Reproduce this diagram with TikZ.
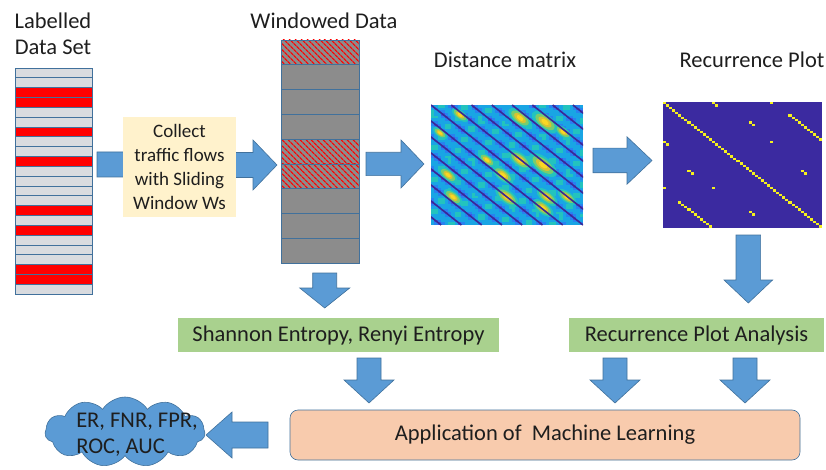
\documentclass[tikz,border=0pt]{standalone}
\usepackage{fontspec}
\setmainfont{Carlito}
\usepackage{tikz}
\usetikzlibrary{positioning,shapes.symbols,patterns.meta}
\definecolor{arrowBlue}{HTML}{5B9BD5}
\definecolor{edgeBlue}{HTML}{41719C}
\definecolor{textGray}{HTML}{1E1E1E}
\definecolor{rowGray}{HTML}{D9DBDF}
\definecolor{windowGray}{HTML}{8C8C8C}
\definecolor{labelRed}{HTML}{FF0000}
\definecolor{collectYellow}{HTML}{FFF2CC}
\definecolor{featureGreen}{HTML}{A9D18E}
\definecolor{learnOrange}{HTML}{F8CBAD}
\definecolor{plotBlue}{HTML}{3B2AA0}
\definecolor{plotYellow}{HTML}{F5F01E}
\definecolor{par0}{RGB}{58,40,150}
\definecolor{par1}{RGB}{66,84,228}
\definecolor{par2}{RGB}{40,130,240}
\definecolor{par3}{RGB}{25,165,228}
\definecolor{par4}{RGB}{35,195,190}
\definecolor{par5}{RGB}{120,205,110}
\definecolor{par6}{RGB}{215,195,50}
\definecolor{par7}{RGB}{250,215,35}
\tikzstyle{diagram} = [x = 1pt, y = -1pt]
\tikzstyle{blockArrow} = [fill=arrowBlue, draw=edgeBlue, line width=.6pt]
\tikzstyle{dataRow} = [draw=edgeBlue, line width=.7pt]
\tikzstyle{titleText} = [font=\fontsize{22.5}{26}\selectfont, text=textGray, inner sep=0pt]
\tikzstyle{collectBox} = [fill=collectYellow, minimum width=113pt, minimum height=100pt, align=center, text=textGray, font=\fontsize{19}{24.3}\selectfont]
\tikzstyle{featureBox} = [titleText, fill=featureGreen, minimum height=34pt]
\tikzstyle{learnBox} = [titleText, fill=learnOrange, draw=edgeBlue, line width=.6pt, rounded corners=8pt, minimum width=510pt, minimum height=50pt]
\tikzstyle{metricCloud} = [cloud, cloud puffs=11, cloud puff arc=115, fill=arrowBlue, draw=edgeBlue, line width=.6pt, minimum width=160pt, minimum height=70pt, inner sep=0pt]
\tikzstyle{distanceLine} = [par0, line width=1.6pt]
\newcommand{\rowH}{9.83}
\newcommand{\winH}{24.8}
\newcommand{\cellW}{3.378}
\newcommand{\cellH}{2.667}
\newcommand{\rightBlockArrow}[6]{\filldraw [blockArrow] (#1, #3 - #4) -- (#2 - #6, #3 - #4) -- (#2 - #6, #3 - #5) -- (#2, #3) -- (#2 - #6, #3 + #5) -- (#2 - #6, #3 + #4) -- (#1, #3 + #4) -- cycle;}
\newcommand{\leftBlockArrow}[6]{\filldraw [blockArrow] (#2, #3 - #4) -- (#1 + #6, #3 - #4) -- (#1 + #6, #3 - #5) -- (#1, #3) -- (#1 + #6, #3 + #5) -- (#1 + #6, #3 + #4) -- (#2, #3 + #4) -- cycle;}
\newcommand{\downBlockArrow}[6]{\filldraw [blockArrow] (#1 - #4, #2) -- (#1 + #4, #2) -- (#1 + #4, #3 - #6) -- (#1 + #5, #3 - #6) -- (#1, #3) -- (#1 - #5, #3 - #6) -- (#1 - #4, #3 - #6) -- cycle;}
\newcommand{\distanceBlob}[3]{
  \fill [par4, rotate around={-38:(#1,#2)}] (#1,#2) ellipse ({14*#3} and {6.5*#3});
  \fill [par5, rotate around={-38:(#1,#2)}] (#1,#2) ellipse ({10.5*#3} and {4.8*#3});
  \fill [par6, rotate around={-38:(#1,#2)}] (#1,#2) ellipse ({7*#3} and {3.3*#3});
  \fill [par7, rotate around={-38:(#1,#2)}] (#1,#2) ellipse ({4*#3} and {2*#3});
}
\newcommand{\rpDot}[2]{\fill [plotYellow] ({663 + (#1)*3.06}, {102 + (#2)*2.42}) rectangle + (3.06, 2.42);}
\newcommand{\rpPair}[2]{\rpDot{#1}{#2} \rpDot{#2}{#1}}
\begin{document}
\begin{tikzpicture}[diagram]
  \useasboundingbox (0,0) rectangle (826,470);
  \node [titleText, align=center] (dataTitle) at (53,34) {Labelled\\Data Set};
  \node [titleText] (windowTitle) at (324,21) {Windowed Data};
  \node [titleText] (distanceTitle) at (505,60) {Distance matrix};
  \node [titleText] (plotTitle) at (752,60) {Recurrence Plot};

  \foreach \row in {0,...,22} {
    \filldraw [dataRow, fill=rowGray] (15, 68 + \row*\rowH) rectangle + (77, \rowH);
  }
  \foreach \row in {2,3,6,9,14,16,20,21} {
    \filldraw [dataRow, fill=labelRed] (15, 68 + \row*\rowH) rectangle + (77, \rowH);
  }

  \foreach \row in {0,...,8} {
    \fill [windowGray] (281, 40 + \row*\winH) rectangle + (78, \winH);
  }
  \foreach \row in {0,4,5} {
    \fill [pattern={Lines[angle=-45, distance=4pt, line width=1.3pt]}, pattern color=labelRed] (281, 40 + \row*\winH) rectangle + (78, \winH);
  }
  \foreach \row in {0,...,8} {
    \draw [dataRow] (281, 40 + \row*\winH) rectangle + (78, \winH);
  }

  \begin{scope}
    \clip (431,105) rectangle (583,225);
    \foreach \i in {0,...,44} {
      \foreach \j in {0,...,44} {
        \pgfmathsetmacro{\band}{sin(mod(\i - \j + 90, 6)*30)}
        \pgfmathtruncatemacro{\lev}{7.99*(0.22 + 0.22*\band + 0.1*(0.5 + 0.5*sin(\i*47 + \j*29)))}
        \fill [par\lev] (431 + \i*\cellW, 105 + \j*\cellH) rectangle + (3.45, 2.75);
      }
    }
    \foreach \bx/\by/\bs in {520/118/1, 545/122/1.1, 460/115/.7, 520/160/1, 543/165/1.2, 448/175/.8, 503/175/.9, 453/197/.8, 507/197/1, 547/197/.9, 567/197/.8, 543/208/.9, 487/160/.7, 563/132/.7, 440/133/.6} {
      \distanceBlob{\bx}{\by}{\bs}
    }
    \foreach \m in {-7,...,7} {
      \draw [distanceLine] (431 + \m*6*\cellW, 105) -- + (152,120);
    }
  \end{scope}

  \fill [plotBlue] (663,102) rectangle (822,228);
  \foreach \k in {0,...,51} {\rpDot{\k}{\k}}
  \foreach \k in {0,...,10} {\rpPair{41 + \k}{5 + \k}}
  \rpPair{16}{0} \rpPair{17}{1} \rpPair{35}{0}
  \rpPair{28}{8} \rpPair{29}{9} \rpPair{35}{16}
  \rpPair{45}{28} \rpPair{46}{29}

  \rightBlockArrow{97}{150}{164.5}{12.5}{25}{24}
  \rightBlockArrow{230}{277}{165}{12.5}{25}{24}
  \rightBlockArrow{366}{424}{164}{11.7}{24}{23}
  \rightBlockArrow{593}{652}{160.5}{12.3}{23.7}{25}
  \downBlockArrow{324.7}{273}{308}{12}{25}{20}
  \downBlockArrow{748.3}{235}{303}{12.3}{24.3}{23}
  \downBlockArrow{369}{358}{403}{12}{25}{23}
  \downBlockArrow{615}{358}{403}{12}{25}{23}
  \downBlockArrow{745}{358}{403}{12}{25}{23}
  \leftBlockArrow{206}{268}{435}{13}{23}{26}

  \node [collectBox] (collect) at (179.5,167) {Collect\\traffic flows\\with Sliding\\Window Ws};
  \node [featureBox, minimum width=321pt] (entropy) at (338.5,335) {Shannon Entropy, Renyi Entropy};
  \node [featureBox, minimum width=255pt] (analysis) at (696.5,335) {Recurrence Plot Analysis};
  \node [learnBox] (learning) at (545,435) {Application of \ Machine Learning};
  \node [metricCloud] (metrics) at (125,432) {};
  \node [titleText, align=left] (metricText) at ([xshift=12pt, yshift=-3pt]metrics.center) {ER, FNR, FPR,\\ROC, AUC};
\end{tikzpicture}
\end{document}
